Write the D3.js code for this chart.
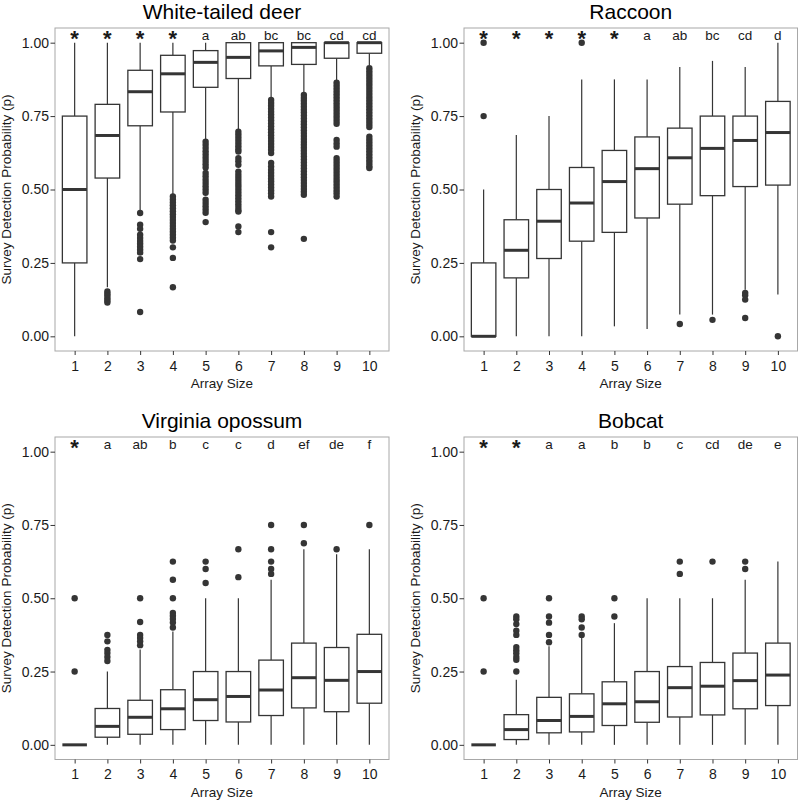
<!DOCTYPE html>
<html><head><meta charset="utf-8">
<script src="https://cdn.jsdelivr.net/npm/d3@7"></script>
<style>
body{margin:0;background:#fff}
svg{display:block}
text{font-family:"Liberation Sans",Arial,Helvetica,sans-serif}
</style>
</head><body>
<svg id="chart" width="800" height="802"></svg>
<script>
// ---------- data ----------
const arraySizes = [1,2,3,4,5,6,7,8,9,10];
const yTickValues = [0, 0.25, 0.5, 0.75, 1.0];
const speciesNames = ["White-tailed deer", "Raccoon", "Virginia opossum", "Bobcat"];

// White-tailed deer
const deerLetters = ["*","*","*","*","a","ab","bc","bc","cd","cd"];
const deerLo  = [0.00, 0.167, 0.430, 0.480, 0.669, 0.703, 0.811, 0.828, 0.873, 0.924];
const deerQ1  = [0.25, 0.539, 0.717, 0.764, 0.848, 0.878, 0.921, 0.926, 0.947, 0.964];
const deerMed = [0.50, 0.684, 0.833, 0.894, 0.933, 0.950, 0.972, 0.984, 1.000, 1.000];
const deerQ3  = [0.75, 0.790, 0.906, 0.957, 0.973, 1.000, 1.000, 1.000, 1.000, 1.000];
const deerHi  = [1.00, 1.000, 1.000, 1.000, 1.000, 1.000, 1.000, 1.000, 1.000, 1.000];
const deerOut = [
  [],
  [0.153, 0.145, 0.138, 0.130, 0.122, 0.115],
  [0.420, 0.380, 0.366, 0.346, 0.335, 0.325, 0.315, 0.305, 0.295, 0.285, 0.263, 0.083],
  [0.476, 0.466, 0.456, 0.446, 0.436, 0.426, 0.416, 0.406, 0.396, 0.386, 0.376, 0.366, 0.356, 0.346, 0.336, 0.326, 0.303, 0.267, 0.167],
  [0.663, 0.652, 0.641, 0.630, 0.619, 0.608, 0.597, 0.586, 0.575, 0.556, 0.545, 0.533, 0.522, 0.511, 0.500, 0.489, 0.465, 0.454, 0.443, 0.432, 0.421, 0.389],
  [0.697, 0.687, 0.677, 0.667, 0.657, 0.647, 0.637, 0.629, 0.607, 0.596, 0.584, 0.561, 0.550, 0.540, 0.530, 0.520, 0.510, 0.500, 0.490, 0.480, 0.470, 0.460, 0.450, 0.440, 0.430, 0.425, 0.374, 0.355],
  [0.805, 0.795, 0.785, 0.775, 0.765, 0.755, 0.745, 0.735, 0.725, 0.715, 0.705, 0.695, 0.685, 0.675, 0.665, 0.655, 0.645, 0.635, 0.624, 0.590, 0.578, 0.567, 0.557, 0.547, 0.537, 0.527, 0.517, 0.507, 0.497, 0.487, 0.476, 0.355, 0.303],
  [0.822, 0.812, 0.802, 0.792, 0.782, 0.772, 0.762, 0.752, 0.742, 0.732, 0.722, 0.712, 0.702, 0.692, 0.682, 0.672, 0.662, 0.652, 0.642, 0.632, 0.622, 0.612, 0.602, 0.592, 0.582, 0.572, 0.562, 0.552, 0.542, 0.532, 0.522, 0.512, 0.502, 0.492, 0.482, 0.332],
  [0.864, 0.854, 0.844, 0.834, 0.824, 0.814, 0.804, 0.794, 0.784, 0.774, 0.764, 0.754, 0.744, 0.734, 0.724, 0.669, 0.657, 0.646, 0.607, 0.597, 0.587, 0.577, 0.567, 0.557, 0.547, 0.537, 0.527, 0.517, 0.507, 0.497, 0.487, 0.476],
  [0.913, 0.903, 0.893, 0.883, 0.873, 0.863, 0.853, 0.843, 0.833, 0.823, 0.813, 0.803, 0.793, 0.783, 0.773, 0.763, 0.753, 0.743, 0.733, 0.723, 0.713, 0.680, 0.670, 0.660, 0.650, 0.640, 0.630, 0.620, 0.610, 0.600, 0.590, 0.580, 0.573]
];

// Raccoon
const raccoonLetters = ["*","*","*","*","*","a","ab","bc","cd","d"];
const raccoonLo  = [0.00, 0.000, 0.000, 0.000, 0.034, 0.025, 0.074, 0.074, 0.159, 0.142];
const raccoonQ1  = [0.00, 0.199, 0.265, 0.324, 0.354, 0.403, 0.450, 0.479, 0.510, 0.515];
const raccoonMed = [0.00, 0.293, 0.392, 0.454, 0.527, 0.571, 0.608, 0.640, 0.667, 0.694];
const raccoonQ3  = [0.25, 0.397, 0.500, 0.575, 0.633, 0.679, 0.709, 0.750, 0.750, 0.800];
const raccoonHi  = [0.50, 0.686, 0.750, 0.875, 0.875, 0.875, 0.917, 0.938, 0.917, 1.000];
const raccoonOut = [[1.0, 0.75], [], [], [1.0], [], [], [0.042], [0.056], [0.148, 0.140, 0.125, 0.0625], [0.0]];

// Virginia opossum
const opossumLetters = ["*","a","ab","b","c","c","d","ef","de","f"];
const opossumLo  = [0, 0, 0, 0, 0, 0, 0, 0, 0, 0];
const opossumQ1  = [0, 0.026, 0.036, 0.052, 0.083, 0.078, 0.100, 0.126, 0.113, 0.142];
const opossumMed = [0, 0.063, 0.094, 0.123, 0.154, 0.165, 0.187, 0.229, 0.220, 0.250];
const opossumQ3  = [0, 0.124, 0.152, 0.188, 0.250, 0.250, 0.289, 0.347, 0.332, 0.377];
const opossumHi  = [0, 0.250, 0.325, 0.387, 0.500, 0.500, 0.563, 0.667, 0.650, 0.667];
const opossumOut = [
  [0.5, 0.25],
  [0.375, 0.353, 0.324, 0.313, 0.300, 0.286],
  [0.5, 0.419, 0.375, 0.364, 0.353, 0.340],
  [0.625, 0.563, 0.5, 0.45, 0.44, 0.429, 0.417, 0.40],
  [0.625, 0.6, 0.552],
  [0.667, 0.572],
  [0.75, 0.667, 0.625, 0.6, 0.583],
  [0.75, 0.6875],
  [0.667],
  [0.75]
];

// Bobcat
const bobcatLetters = ["*","*","a","a","b","b","c","cd","de","e"];
const bobcatLo  = [0, 0, 0, 0, 0, 0, 0, 0, 0, 0];
const bobcatQ1  = [0, 0.018, 0.041, 0.044, 0.066, 0.077, 0.095, 0.102, 0.123, 0.134];
const bobcatMed = [0, 0.052, 0.083, 0.097, 0.140, 0.147, 0.195, 0.200, 0.219, 0.238];
const bobcatQ3  = [0, 0.103, 0.162, 0.174, 0.215, 0.250, 0.267, 0.281, 0.313, 0.347];
const bobcatHi  = [0, 0.222, 0.336, 0.364, 0.415, 0.500, 0.500, 0.500, 0.563, 0.625];
const bobcatOut = [
  [0.5, 0.25],
  [0.4375, 0.4286, 0.4118, 0.3889, 0.375, 0.3333, 0.3226, 0.3125, 0.300, 0.2903, 0.25],
  [0.5, 0.4375, 0.4167, 0.375, 0.35],
  [0.4375, 0.4286, 0.40, 0.375],
  [0.5, 0.4375],
  [],
  [0.625, 0.583],
  [0.625],
  [0.625, 0.6],
  []
];

// ---------- layout ----------
const panels = [
  {name: speciesNames[0], letters: deerLetters, lo: deerLo, q1: deerQ1, med: deerMed, q3: deerQ3, hi: deerHi, out: deerOut,
   L: 55, R: 389, T: 28, B: 351},
  {name: speciesNames[1], letters: raccoonLetters, lo: raccoonLo, q1: raccoonQ1, med: raccoonMed, q3: raccoonQ3, hi: raccoonHi, out: raccoonOut,
   L: 464, R: 797.5, T: 28, B: 351},
  {name: speciesNames[2], letters: opossumLetters, lo: opossumLo, q1: opossumQ1, med: opossumMed, q3: opossumQ3, hi: opossumHi, out: opossumOut,
   L: 55, R: 389, T: 437, B: 759.5},
  {name: speciesNames[3], letters: bobcatLetters, lo: bobcatLo, q1: bobcatQ1, med: bobcatMed, q3: bobcatQ3, hi: bobcatHi, out: bobcatOut,
   L: 464, R: 797.5, T: 437, B: 759.5}
];

const svg = d3.select("#chart");
const ink = "#353535";

panels.forEach(p => {
  const x = d3.scaleLinear().domain([0.4, 10.6]).range([p.L, p.R]);
  const y = d3.scaleLinear().domain([-0.05, 1.05]).range([p.B, p.T]);
  const g = svg.append("g");
  const halfW = 0.375;

  const boxes = arraySizes.map((s, i) => ({s, lo: p.lo[i], q1: p.q1[i], med: p.med[i], q3: p.q3[i], hi: p.hi[i], out: p.out[i], lab: p.letters[i]}));

  // whiskers
  g.selectAll(".wl").data(boxes).join("line")
    .attr("x1", d => x(d.s)).attr("x2", d => x(d.s))
    .attr("y1", d => y(d.lo)).attr("y2", d => y(d.q1))
    .attr("stroke", ink).attr("stroke-width", 1.2);
  g.selectAll(".wh").data(boxes).join("line")
    .attr("x1", d => x(d.s)).attr("x2", d => x(d.s))
    .attr("y1", d => y(d.q3)).attr("y2", d => y(d.hi))
    .attr("stroke", ink).attr("stroke-width", 1.2);

  // boxes
  g.selectAll(".bx").data(boxes).join("rect")
    .attr("x", d => x(d.s - halfW)).attr("width", d => x(d.s + halfW) - x(d.s - halfW))
    .attr("y", d => y(d.q3)).attr("height", d => y(d.q1) - y(d.q3))
    .attr("fill", "#fff").attr("stroke", ink).attr("stroke-width", 1.3);

  // medians
  g.selectAll(".md").data(boxes).join("line")
    .attr("x1", d => x(d.s - halfW)).attr("x2", d => x(d.s + halfW))
    .attr("y1", d => y(d.med)).attr("y2", d => y(d.med))
    .attr("stroke", ink).attr("stroke-width", 3);

  // outliers
  const pts = boxes.flatMap(d => d.out.map(v => ({s: d.s, v})));
  g.selectAll(".ol").data(pts).join("circle")
    .attr("cx", d => x(d.s)).attr("cy", d => y(d.v)).attr("r", 3.2)
    .attr("fill", ink);

  // letters
  g.selectAll(".lt").data(boxes).join("text")
    .attr("x", d => x(d.s))
    .attr("y", d => d.lab === "*" ? y(1.0) + 3 : y(1.0) - 2.5)
    .attr("text-anchor", "middle")
    .attr("font-size", d => d.lab === "*" ? 22 : 13.5)
    .attr("font-weight", d => d.lab === "*" ? "bold" : "normal")
    .attr("fill", "#1a1a1a")
    .text(d => d.lab);

  // border
  g.append("rect").attr("x", p.L).attr("y", p.T).attr("width", p.R - p.L).attr("height", p.B - p.T)
    .attr("fill", "none").attr("stroke", "#a8a8a8").attr("stroke-width", 1);

  // axes
  const ya = g.append("g").attr("transform", `translate(${p.L},0)`)
    .call(d3.axisLeft(y).tickValues(yTickValues).tickFormat(d3.format(".2f")).tickSize(4.5).tickPadding(1.5));
  ya.select(".domain").remove();
  ya.selectAll("line").attr("stroke", ink);
  ya.selectAll("text").attr("font-size", 14).attr("fill", "#1a1a1a").style("font-family", '"Liberation Sans",Arial,sans-serif');

  const xa = g.append("g").attr("transform", `translate(0,${p.B})`)
    .call(d3.axisBottom(x).tickValues(arraySizes).tickFormat(d3.format("d")).tickSize(4).tickPadding(6));
  xa.select(".domain").remove();
  xa.selectAll("line").attr("stroke", ink);
  xa.selectAll("text").attr("font-size", 14).attr("fill", "#1a1a1a").style("font-family", '"Liberation Sans",Arial,sans-serif');

  // titles
  g.append("text").attr("x", (p.L + p.R) / 2).attr("y", p.T - 9.5)
    .attr("text-anchor", "middle").attr("font-size", 21).attr("fill", "#000").text(p.name);
  g.append("text").attr("x", (p.L + p.R) / 2).attr("y", p.B + 37)
    .attr("text-anchor", "middle").attr("font-size", 13.5).attr("fill", "#1a1a1a").text("Array Size");
  g.append("text")
    .attr("transform", `translate(${p.L - 44.5},${(p.T + p.B) / 2}) rotate(-90)`)
    .attr("text-anchor", "middle").attr("font-size", 13.5).attr("fill", "#1a1a1a")
    .text("Survey Detection Probability (p)");
});
</script>
</body></html>
